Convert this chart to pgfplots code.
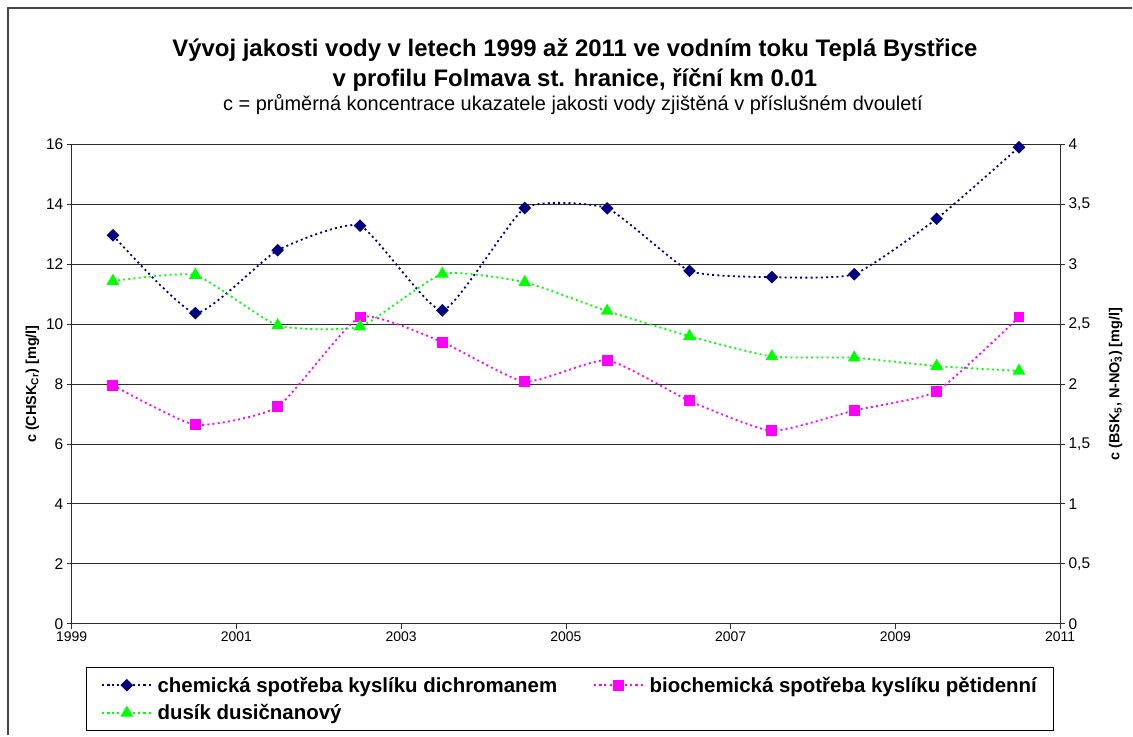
\documentclass[border=0pt]{standalone}
\usepackage{fontspec}
\setmainfont{Liberation Sans}
\usepackage{pgfplots}
\usepackage{pgfplotstable}
\pgfplotsset{compat=1.18}
\usetikzlibrary{calc}
\definecolor{chskColor}{RGB}{0,0,128}
\definecolor{bskColor}{RGB}{255,0,255}
\definecolor{noColor}{RGB}{0,255,0}
\definecolor{gridColor}{RGB}{45,45,45}
\definecolor{frameColor}{RGB}{70,70,70}

% prumerne koncentrace v dvouleti (CHSK vlevo, BSK a N-NO3 vpravo)
\pgfplotstableread{
year   chsk  bsk  no3
1999.5 12.97 1.99 2.86
2000.5 10.37 1.66 2.91
2001.5 12.47 1.81 2.49
2002.5 13.29 2.56 2.48
2003.5 10.46 2.35 2.92
2004.5 13.88 2.02 2.85
2005.5 13.87 2.20 2.61
2006.5 11.78 1.86 2.40
2007.5 11.57 1.61 2.23
2008.5 11.67 1.78 2.22
2009.5 13.52 1.94 2.15
2010.5 15.91 2.56 2.11
}\quality

\pgfplotsset{
  base/.style={width=992pt,height=481pt,scale only axis,xmin=1999,xmax=2011,
    tick align=outside,major tick length=5pt,
    /pgf/number format/assume math mode=true,/pgf/number format/1000 sep={},
    tick style={gridColor,line width=0.9pt},axis line style={gridColor,line width=0.9pt},
    yticklabel style={font=\fontsize{15.5}{18}\selectfont},
    xticklabel style={font=\fontsize{14}{17}\selectfont},
    label style={font=\fontsize{14.5}{17}\selectfont\bfseries}},
  dots/.style={line width=1.8pt,dash pattern=on 2pt off 3.2pt,smooth,tension=0.3},
  chsk/.style={dots,color=chskColor,mark=square*,mark size=3.6pt,mark options={solid,rotate=45,fill=chskColor}},
  bsk/.style={dots,color=bskColor,mark=square*,mark size=4.6pt,mark options={solid,fill=bskColor}},
  nitr/.style={dots,color=noColor,mark=triangle*,mark size=5.6pt,mark options={solid,fill=noColor}},
}

\begin{document}
\begin{tikzpicture}
\begin{axis}[base,name=main,
  axis y line*=left,axis x line*=bottom,
  ymin=0,ymax=16,ytick={0,2,...,16},xtick={1999,2001,...,2011},
  ymajorgrids,grid style={gridColor,line width=0.9pt},
  ylabel={c (CHSK\textsubscript{Cr}) [mg/l]}]
\addplot[chsk] table[x=year,y=chsk]{\quality};
\end{axis}
\begin{axis}[base,
  axis y line*=right,axis x line=none,
  ymin=0,ymax=4,ytick={0,0.5,...,4},
  /pgf/number format/use comma,
  ylabel={c (BSK\textsubscript{5}, N-NO\rlap{\textsuperscript{-}}\textsubscript{3}) [mg/l]},
  ylabel style={yshift=-12pt},
  legend columns=2,legend cell align=left,
  legend style={at={(rel axis cs:0.504,-0.09)},anchor=north,draw=black,line width=1pt,
    font=\fontsize{20.5}{24}\selectfont\bfseries,inner xsep=15pt,inner ysep=7.5pt,row sep=7pt,
    /tikz/every even column/.append style={column sep=34pt},
    /tikz/every odd column/.append style={column sep=3pt}},
  legend image code/.code={\draw[mark repeat=2,mark phase=2] plot coordinates {(0pt,0pt) (25pt,0pt) (50pt,0pt)};}]
\addlegendimage{chsk}
\addlegendentry{chemická spotřeba kyslíku dichromanem}
\addplot[bsk] table[x=year,y=bsk]{\quality};
\addlegendentry{biochemická spotřeba kyslíku pětidenní}
\addplot[nitr] table[x=year,y=no3]{\quality};
\addlegendentry{dusík dusičnanový}
\end{axis}
\node[anchor=base,font=\fontsize{24}{28}\selectfont\bfseries] at ($(main.north west)+(505pt,88pt)$) {Vývoj jakosti vody v letech 1999 až 2011 ve vodním toku Teplá Bystřice};
\node[anchor=base,font=\fontsize{24}{28}\selectfont\bfseries] at ($(main.north west)+(505pt,58pt)$) {v profilu Folmava st. hranice, říční km 0.01};
\node[anchor=base,font=\fontsize{20}{24}\selectfont] at ($(main.north west)+(503pt,34pt)$) {c = průměrná koncentrace ukazatele jakosti vody zjištěná v příslušném dvouletí};
\draw[frameColor,line width=2.2pt] ($(main.south west)+(-64pt,-112pt)$) -- ($(main.north west)+(-64pt,137pt)$) -- ($(main.north east)+(72pt,137pt)$);
\path[use as bounding box] ($(main.south west)+(-72pt,-110pt)$) rectangle ($(main.north east)+(69pt,145pt)$);
\end{tikzpicture}
\end{document}
